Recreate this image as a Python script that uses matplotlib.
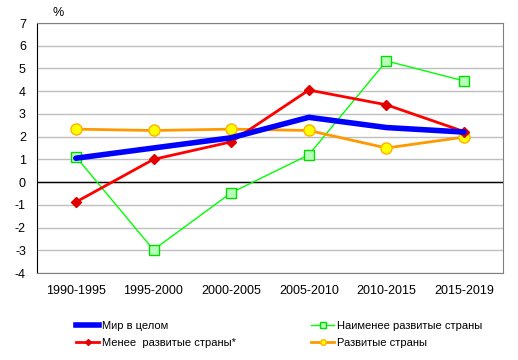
import matplotlib
matplotlib.use("Agg")
import matplotlib.pyplot as plt
from matplotlib.lines import Line2D

plt.rcParams['font.family'] = ['Liberation Sans', 'DejaVu Sans']

categories = ["1990-1995", "1995-2000", "2000-2005", "2005-2010", "2010-2015", "2015-2019"]
world = [1.05, 1.5, 1.95, 2.85, 2.4, 2.2]
less_dev = [-0.88, 1.0, 1.77, 4.05, 3.4, 2.22]
least_dev = [1.12, -2.98, -0.47, 1.2, 5.33, 4.45]
developed = [2.33, 2.27, 2.33, 2.27, 1.5, 1.98]
labels = ["Мир в целом", "Менее  развитые страны*", "Наименее развитые страны", "Развитые страны"]
yticks = list(range(-4, 8))

fig = plt.figure(figsize=(5.18, 3.6), dpi=100)
ax = fig.add_axes([37/518, 1-273/360, 466/518, 250/360])

x = list(range(len(categories)))
ax.plot(x, least_dev, color='#00FF00', lw=1.0, marker='s', ms=7,
        mfc='#B8FFB8', mec='#00DD00', mew=1.0, zorder=3)
ax.plot(x, developed, color='#FF9900', lw=2.0, marker='o', ms=8,
        mfc='#FFFF00', mec='#FFB000', mew=1.0, zorder=4)
ax.plot(x, less_dev, color='#FF0000', lw=2.0, marker='D', ms=5.5,
        mfc='#E00000', mec='#E00000', zorder=5)
ax.plot(x, world, color='#0000FF', lw=4.0, zorder=6, solid_capstyle='round')

ax.set_xlim(-0.5, len(categories) - 0.5)
ax.set_ylim(-4, 7)
ax.set_yticks(yticks)
ax.set_yticklabels([str(v) for v in yticks], fontsize=9)
ax.set_xticks(x)
ax.set_xticklabels(categories, fontsize=9)
ax.tick_params(axis='both', length=0)
ax.tick_params(axis='x', pad=9)
ax.tick_params(axis='y', pad=8)
ax.grid(axis='y', color='#BFBFBF', lw=1.0)
ax.set_axisbelow(True)
ax.axhline(0, color='black', lw=1.0, zorder=2)
for s in ['top', 'right', 'bottom']:
    ax.spines[s].set_color('#808080')
ax.spines['left'].set_color('black')

ax.text(0.033, 1.015, "%", transform=ax.transAxes, fontsize=9, ha='left', va='bottom')

handles = [
    Line2D([], [], color='#0000FF', lw=4.0),
    Line2D([], [], color='#FF0000', lw=2.0, marker='D', ms=3, mfc='#E00000', mec='#E00000'),
    Line2D([], [], color='#00FF00', lw=1.0, marker='s', ms=4, mfc='#B8FFB8', mec='#00DD00'),
    Line2D([], [], color='#FF9900', lw=2.0, marker='o', ms=4, mfc='#FFFF00', mec='#FFB000'),
]
fig.legend(handles, labels, loc='upper left', bbox_to_anchor=(66/518, 1-311/360),
           ncol=2, frameon=False, fontsize=8, handlelength=2.1, handletextpad=0.2,
           columnspacing=6.8, labelspacing=0.6)

fig.savefig("out.png", dpi=100)
